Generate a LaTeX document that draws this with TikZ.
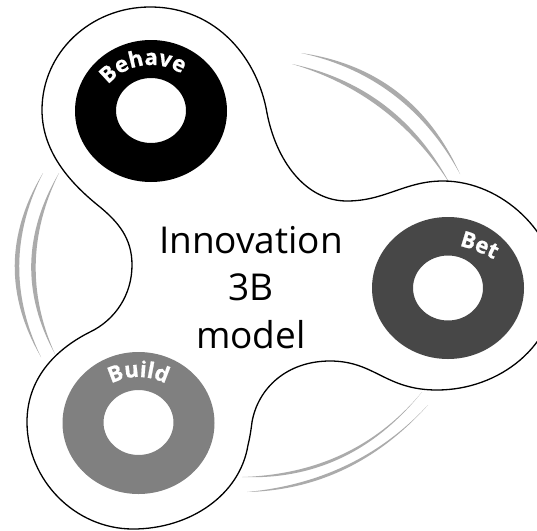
\documentclass[tikz,border=0pt]{standalone}
\usepackage{fontspec}
\setmainfont{Open Sans}
\newfontfamily\ringfont{Open Sans}[BoldFeatures={FakeBold=0.8}]
\usetikzlibrary{calc,decorations.text}
\tikzset{
  outline/.style={draw=black,line width=1.3pt,fill=white},
  ringfill/.style={fill=#1,even odd rule},
  title/.style={font=\fontsize{37}{37}\selectfont,text=black,inner sep=0pt,anchor=base},
  crescent/.style={fill=black!33,draw=none},
  ringtext/.style={decorate,decoration={text along path,text align=center,text color=white,text={|\ringfont\fontsize{22}{22}\selectfont\bfseries|#1}}}
}
\newcommand{\crsc}[4]{\fill[crescent] (#1) .. controls ($(#1)!.667!(#2)$) and ($(#4)!.667!(#2)$) .. (#4) .. controls ($(#4)!.667!(#3)$) and ($(#1)!.667!(#3)$) .. (#1) -- cycle;}
\begin{document}
\begin{tikzpicture}[x=1pt,y=-1pt]
\clip (0,0) rectangle (537,530);
\fill[white] (0,0) rectangle (537,530);
% crescents, top right
\crsc{301,53}{412.5,69}{406.5,76}{460,174}
\crsc{292,64}{398,86.5}{392,93.5}{450,184}
% crescents, left
\crsc{43,173}{-12.5,265}{-3.5,265}{41,357}
\crsc{59,173}{5.5,264}{14.5,264}{55,354}
% crescents, bottom right
\crsc{422,392}{354,473.5}{350,481.5}{242,477}
\crsc{428,405}{356.5,481.5}{352.5,489.5}{247,492}
% body
\path[outline] (42,110)
 .. controls (42,53) and (90,7) .. (150,7)
 .. controls (218,7) and (258,60) .. (267,113)
 .. controls (276,160) and (305,201) .. (347,201)
 .. controls (385,201) and (405,181) .. (443,181)
 .. controls (503,181) and (556,235) .. (556,285)
 .. controls (556,345) and (500,390) .. (437,390)
 .. controls (385,390) and (375,361) .. (330,361)
 .. controls (287,361) and (258,388) .. (252,422)
 .. controls (251,430) and (250,437) .. (248,445)
 .. controls (240,495) and (190,529) .. (133,529)
 .. controls (75,529) and (27,480) .. (27,422)
 .. controls (27,375) and (60,347) .. (90,332)
 .. controls (115,320) and (132,295) .. (132,265)
 .. controls (132,238) and (118,222) .. (100,207)
 .. controls (75,187) and (42,155) .. (42,110) -- cycle;
% rings
\path[ringfill=black] (151,111) ellipse [x radius=76,y radius=71] (151,110.5) ellipse [x radius=35,y radius=32.5];
\path[ringfill=black!72] (448,288) ellipse [x radius=76,y radius=71] (448,288) ellipse [x radius=35,y radius=32.5];
\path[ringfill=black!50] (138.5,423) ellipse [x radius=76,y radius=71] (138.5,422.5) ellipse [x radius=35,y radius=32.5];
% ring labels
\path[ringtext=Behave] (99.8,103) .. controls (103.6,84) and (120.5,69.1) .. (142,65.7) .. controls (163.5,62.3) and (185.1,71.3) .. (196,88);
\path[ringtext=Bet] (443,243) .. controls (465,245) and (487,254) .. (508,268);
\path[ringtext=Build] (89.6,407.3) .. controls (97.1,389.1) and (116.6,377) .. (138.5,377) .. controls (160.4,377) and (179.9,389.1) .. (187.4,407.3);
% title
\node[title] (t1) at (251,253) {Innovation};
\node[title] (t2) at (251,300) {3B};
\node[title] (t3) at (251,348) {model};
\end{tikzpicture}
\end{document}
